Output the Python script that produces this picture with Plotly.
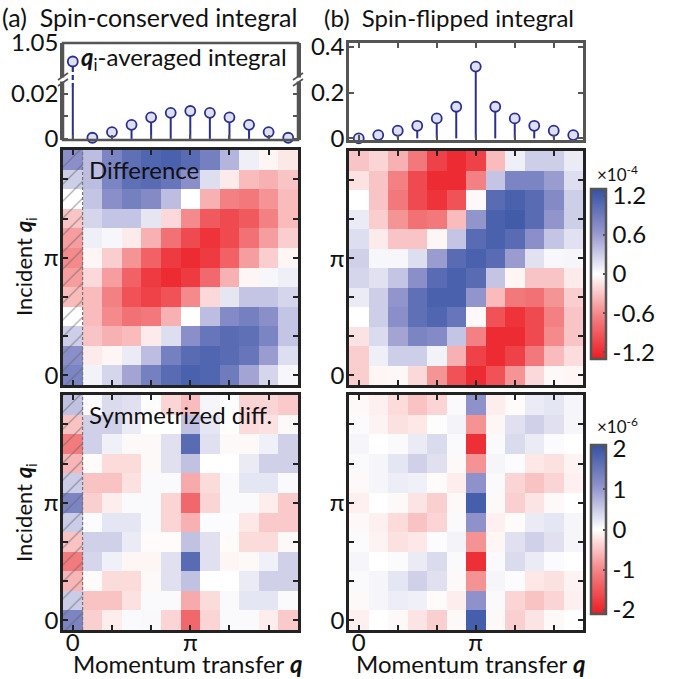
import plotly.graph_objects as go

W, H = 688, 679
FONT = "Lato"
N = 12
cols = list(range(N))

# q_i-averaged integrals versus momentum transfer q (q = 2*pi*k/12)
sc_integral = [1.025, 0.0005, 0.003, 0.0062, 0.0095, 0.0115, 0.0123,
               0.0115, 0.0095, 0.0062, 0.003, 0.0005]
sf_integral = [0.0, 0.0146, 0.0335, 0.055, 0.087, 0.138, 0.313,
               0.138, 0.087, 0.055, 0.0335, 0.0146]

# Maps: rows listed from top (largest q_i) down to q_i = 0, columns q = 0 .. 11
diff_sc_rows = [  # units of 1e-4
    [0.70, 0.40, 0.80, 1.00, 1.10, 1.15, 1.05, 0.85, 0.45, 0.10, -0.05, -0.12],
    [0.30, 0.40, 0.80, 1.00, 1.05, 0.95, 0.70, 0.20, -0.10, -0.35, -0.40, -0.30],
    [0.00, 0.35, 0.70, 0.85, 0.75, 0.40, 0.00, -0.40, -0.65, -0.70, -0.55, -0.35],
    [-0.30, 0.25, 0.35, 0.35, 0.15, -0.20, -0.60, -0.90, -1.00, -0.90, -0.65, -0.35],
    [-0.50, 0.10, 0.05, -0.10, -0.40, -0.75, -1.00, -1.15, -1.00, -0.75, -0.50, -0.25],
    [-0.60, -0.05, -0.25, -0.55, -0.85, -1.10, -1.20, -1.10, -0.85, -0.50, -0.25, -0.05],
    [-0.50, -0.20, -0.50, -0.85, -1.10, -1.20, -1.10, -0.80, -0.40, -0.05, 0.05, 0.10],
    [-0.35, -0.35, -0.65, -0.95, -1.05, -0.95, -0.60, -0.20, 0.15, 0.35, 0.35, 0.25],
    [0.00, -0.35, -0.60, -0.75, -0.70, -0.40, 0.00, 0.40, 0.75, 0.85, 0.70, 0.35],
    [0.30, -0.30, -0.40, -0.35, -0.10, 0.20, 0.70, 0.95, 1.05, 1.00, 0.80, 0.35],
    [0.70, -0.10, -0.05, 0.12, 0.40, 0.85, 1.05, 1.10, 1.05, 0.95, 0.60, 0.20],
    [0.80, 0.08, 0.25, 0.55, 0.85, 1.05, 1.15, 1.10, 0.90, 0.55, 0.25, 0.05],
]
diff_sf_rows = [  # units of 1e-4
    [-0.30, -0.22, -0.40, -0.70, -1.05, -1.20, -1.05, -0.35, 0.10, 0.30, 0.30, 0.12],
    [-0.15, -0.30, -0.65, -1.00, -1.20, -1.20, -0.65, 0.35, 0.80, 0.80, 0.60, 0.20],
    [0.00, -0.30, -0.70, -1.00, -1.15, -0.95, -0.03, 1.05, 1.15, 1.05, 0.75, 0.30],
    [0.12, -0.25, -0.55, -0.75, -0.70, -0.35, 0.65, 1.15, 1.20, 1.05, 0.65, 0.30],
    [0.20, -0.10, -0.30, -0.30, -0.05, 0.35, 1.05, 1.15, 1.05, 0.70, 0.35, 0.18],
    [0.28, 0.05, 0.05, 0.20, 0.60, 1.05, 1.15, 1.05, 0.60, 0.18, 0.04, 0.06],
    [0.25, 0.18, 0.35, 0.70, 1.05, 1.15, 1.05, 0.35, -0.05, -0.30, -0.30, -0.10],
    [0.12, 0.30, 0.65, 1.00, 1.15, 1.15, 0.65, -0.35, -0.70, -0.75, -0.55, -0.25],
    [0.00, 0.30, 0.70, 1.00, 1.10, 0.95, -0.03, -0.95, -1.15, -1.00, -0.65, -0.30],
    [-0.15, 0.22, 0.55, 0.80, 0.75, 0.35, -0.65, -1.20, -1.20, -1.00, -0.60, -0.30],
    [-0.25, 0.10, 0.30, 0.30, 0.08, -0.40, -1.05, -1.20, -1.05, -0.70, -0.35, -0.18],
    [-0.25, -0.05, -0.04, -0.20, -0.55, -0.95, -1.20, -0.95, -0.55, -0.20, -0.03, -0.05],
]
sym_sc_rows = [  # units of 1e-6
    [0.60, 0.05, 0.35, 0.30, 0.02, -0.35, -0.55, 0.10, 0.02, -0.35, -0.35, -0.45],
    [-0.50, 0.45, 0.45, 0.20, 0.00, 0.00, 0.60, 0.25, 0.00, -0.30, -0.25, -0.05],
    [-1.10, 0.45, 0.15, -0.05, -0.05, 0.30, 1.70, 0.30, -0.05, -0.05, 0.15, 0.45],
    [-0.60, -0.03, -0.30, -0.30, -0.05, 0.30, 0.60, 0.00, 0.00, 0.20, 0.45, 0.45],
    [0.50, -0.50, -0.50, -0.25, 0.05, 0.05, -0.70, -0.30, 0.05, 0.25, 0.25, 0.05],
    [1.30, -0.40, -0.15, 0.05, 0.05, -0.35, -1.30, -0.35, 0.05, 0.05, -0.15, -0.45],
    [0.50, 0.03, 0.25, 0.25, 0.05, -0.35, -0.65, 0.03, 0.03, -0.20, -0.45, -0.45],
    [-0.50, 0.45, 0.45, 0.20, -0.03, -0.03, 0.60, 0.30, -0.03, -0.30, -0.30, -0.05],
    [-1.10, 0.40, 0.15, -0.08, -0.08, 0.30, 1.70, 0.30, -0.08, -0.05, 0.15, 0.45],
    [-0.60, -0.03, -0.30, -0.30, -0.05, 0.30, 0.60, 0.00, 0.00, 0.20, 0.45, 0.45],
    [0.50, -0.50, -0.50, -0.25, 0.05, 0.05, -0.70, -0.30, 0.05, 0.25, 0.25, 0.05],
    [1.30, -0.40, -0.15, 0.05, 0.06, -0.35, -1.30, -0.35, 0.05, 0.05, -0.15, -0.45],
]
sym_sf_rows = [  # units of 1e-6
    [-0.05, -0.12, -0.30, -0.50, -0.35, 0.05, 1.10, -0.15, -0.03, 0.20, 0.25, 0.10],
    [0.04, -0.10, -0.25, -0.20, 0.02, 0.12, -0.90, -0.08, 0.30, 0.45, 0.30, 0.10],
    [0.10, 0.00, 0.05, 0.20, 0.35, 0.05, -1.90, 0.05, 0.35, 0.20, 0.04, 0.00],
    [0.05, 0.10, 0.25, 0.45, 0.30, -0.05, -0.90, 0.10, 0.03, -0.20, -0.25, -0.10],
    [-0.05, 0.10, 0.18, 0.15, -0.03, -0.15, 1.10, 0.05, -0.35, -0.50, -0.35, -0.12],
    [-0.12, 0.00, -0.05, -0.22, -0.40, -0.05, 1.90, -0.05, -0.40, -0.22, -0.05, 0.00],
    [-0.05, -0.12, -0.30, -0.50, -0.35, 0.05, 1.10, -0.12, -0.03, 0.20, 0.25, 0.10],
    [0.04, -0.10, -0.25, -0.20, 0.03, 0.12, -0.90, -0.08, 0.30, 0.45, 0.30, 0.10],
    [0.10, 0.00, 0.04, 0.20, 0.35, 0.05, -1.90, 0.05, 0.35, 0.20, 0.04, 0.00],
    [0.05, 0.10, 0.25, 0.45, 0.30, -0.05, -0.90, 0.10, 0.03, -0.20, -0.25, -0.10],
    [-0.05, 0.10, 0.18, 0.15, -0.03, -0.15, 1.10, 0.05, -0.35, -0.50, -0.35, -0.12],
    [-0.12, 0.00, -0.05, -0.22, -0.40, -0.05, 1.90, -0.05, -0.40, -0.22, -0.05, 0.00],
]

diff_ticks = [-1.2, -0.6, 0, 0.6, 1.2]
sym_ticks = [-2, -1, 0, 1, 2]
DIFF_LIM = 1.3
SYM_LIM = 2.1

# axis-break settings of the spin-conserved panel
LOW_RANGE = [-0.0005, 0.026]
UP_RANGE = [1.0, 1.05]
BREAK_LO = 0.0225

STEM = "rgb(44,48,140)"
MFILL = "rgb(222,223,241)"
FRAME = "#555555"
HFRAME = "#222222"
INK = "#111111"
FS = 24

COLORSCALE = [
    [0.0, "rgb(236,28,36)"],
    [0.25, "rgb(243,128,130)"],
    [0.5, "rgb(255,255,255)"],
    [0.75, "rgb(146,148,204)"],
    [1.0, "rgb(52,82,164)"],
]


def xd(a, b):
    return [a / W, b / W]


def yd(top, bottom):
    return [1 - bottom / H, 1 - top / H]


def px_x(v):
    return v / W


def px_y(v):
    return 1 - v / H


fig = go.Figure()

# ---- stem panel (a): lower and upper parts of the broken axis ----
sx, sy = [], []
for i in cols[1:]:
    sx += [i, i, None]
    sy += [0, sc_integral[i], None]
sx += [0, 0, None]
sy += [0, BREAK_LO, None]
fig.add_trace(go.Scatter(x=sx, y=sy, mode="lines", xaxis="x", yaxis="y",
                         line=dict(color=STEM, width=2), hoverinfo="skip"))
fig.add_trace(go.Scatter(x=[0, 0], y=[BREAK_LO, LOW_RANGE[1]], mode="lines",
                         xaxis="x", yaxis="y", hoverinfo="skip",
                         line=dict(color=STEM, width=2.2, dash="5px,3px")))
fig.add_trace(go.Scatter(x=[0, 0], y=[UP_RANGE[0], sc_integral[0]], mode="lines",
                         xaxis="x", yaxis="y2", hoverinfo="skip",
                         line=dict(color=STEM, width=2.2, dash="5px,3px")))
marker = dict(symbol="circle", size=10, color=MFILL, line=dict(color=STEM, width=1.8))
fig.add_trace(go.Scatter(x=cols[1:], y=sc_integral[1:], mode="markers", xaxis="x",
                         yaxis="y", marker=marker, cliponaxis=False))
fig.add_trace(go.Scatter(x=[0], y=[sc_integral[0]], mode="markers", xaxis="x",
                         yaxis="y2", marker=marker, cliponaxis=False))

# ---- stem panel (b) ----
fx, fy = [], []
for i in cols:
    fx += [i, i, None]
    fy += [0, sf_integral[i], None]
fig.add_trace(go.Scatter(x=fx, y=fy, mode="lines", xaxis="x3", yaxis="y3",
                         line=dict(color=STEM, width=2), hoverinfo="skip"))
fig.add_trace(go.Scatter(x=cols, y=sf_integral, mode="markers", xaxis="x3",
                         yaxis="y3", marker=marker, cliponaxis=False))


# ---- maps ----
def heat(rows, xa, ya, lim, cbar=None):
    z = rows[::-1]
    return go.Heatmap(
        z=z, x=cols, y=cols, xaxis=xa, yaxis=ya, zmin=-lim, zmax=lim,
        colorscale=COLORSCALE, showscale=cbar is not None, colorbar=cbar,
        hoverinfo="skip", xgap=0, ygap=0)


def cbar(ticks, top, bottom):
    return dict(
        x=591 / W, xanchor="left", xpad=0, ypad=0,
        y=1 - (top + bottom) / 2 / H, yanchor="middle",
        len=(bottom - top) / H, lenmode="fraction",
        thickness=15, thicknessmode="pixels",
        outlinewidth=2.5, outlinecolor=FRAME,
        tickvals=ticks, ticktext=[("%g" % t) for t in ticks],
        ticks="inside", ticklen=4, tickwidth=1.5, tickcolor=FRAME,
        tickfont=dict(family=FONT, size=FS, color=INK),
    )


fig.add_trace(heat(diff_sc_rows, "x4", "y4", DIFF_LIM))
fig.add_trace(heat(diff_sf_rows, "x5", "y5", DIFF_LIM, cbar(diff_ticks, 189, 359)))
fig.add_trace(heat(sym_sc_rows, "x6", "y6", SYM_LIM))
fig.add_trace(heat(sym_sf_rows, "x7", "y7", SYM_LIM, cbar(sym_ticks, 445, 614)))

# hatched q = 0 column of the spin-conserved maps
for xa, ya in (("x4", "y4"), ("x6", "y6")):
    fig.add_trace(go.Bar(
        x=[0], y=[N], base=[-0.5], width=[1], xaxis=xa, yaxis=ya,
        marker=dict(color="rgba(0,0,0,0)", line=dict(width=0),
                    pattern=dict(shape="/", fgcolor="rgba(95,95,95,0.95)",
                                 bgcolor="rgba(0,0,0,0)", size=12, solidity=0.12,
                                 fillmode="overlay")),
        hoverinfo="skip"))

tick_font = dict(family=FONT, size=FS, color=INK)
even = cols[::2]
pi_text = ["0", "", "", "\u03c0", "", ""]

common_heat_axis = dict(
    range=[-0.5, 11.5], showgrid=False, zeroline=False, showline=True,
    mirror="ticks", linecolor=HFRAME, linewidth=2.5, ticks="inside",
    ticklen=5, tickwidth=2, tickcolor=HFRAME, tickvals=even, ticktext=pi_text,
    tickfont=tick_font, fixedrange=True, automargin=False,
)
X_STANDOFF = -11
Y_STANDOFF = -3

layout_axes = {}
# stem (a)
layout_axes["xaxis"] = dict(domain=xd(63, 298), anchor="y", range=[-0.5, 11.5],
                            showgrid=False, zeroline=False, showline=False,
                            ticks="inside", tickvals=even, ticklen=5, tickwidth=2,
                            tickcolor=FRAME, showticklabels=False, automargin=False)
layout_axes["yaxis"] = dict(domain=yd(80, 140), anchor="x", range=LOW_RANGE,
                            showgrid=False, zeroline=False, showline=True,
                            mirror="ticks", linecolor=FRAME, linewidth=2.5,
                            ticks="inside", ticklen=5, tickwidth=2, tickcolor=FRAME,
                            tickvals=[0, 0.01, 0.02], ticktext=["0", "", "0.02"],
                            tickfont=tick_font, automargin=False,
                            ticklabelstandoff=Y_STANDOFF)
layout_axes["yaxis2"] = dict(domain=yd(43, 80), anchor="x", range=UP_RANGE,
                             showgrid=False, zeroline=False, showline=True,
                             mirror="ticks", linecolor=FRAME, linewidth=2.5,
                             ticks="", tickvals=[1.05], ticktext=["1.05"],
                             tickfont=tick_font, automargin=False,
                             ticklabelstandoff=Y_STANDOFF)
# stem (b)
layout_axes["xaxis3"] = dict(domain=xd(349, 583), anchor="y3", range=[-0.5, 11.5],
                             showgrid=False, zeroline=False, showline=True,
                             mirror="ticks", linecolor=FRAME, linewidth=2.5,
                             ticks="inside", tickvals=even, ticklen=5, tickwidth=2,
                             tickcolor=FRAME, showticklabels=False, automargin=False)
layout_axes["yaxis3"] = dict(domain=yd(43, 140), anchor="x3", range=[-0.007, 0.416],
                             showgrid=False, zeroline=False, showline=True,
                             mirror="ticks", linecolor=FRAME, linewidth=2.5,
                             ticks="inside", ticklen=5, tickwidth=2, tickcolor=FRAME,
                             tickvals=[0, 0.2, 0.4], ticktext=["0", "0.2", "0.4"],
                             tickfont=tick_font, automargin=False,
                             ticklabelstandoff=Y_STANDOFF)
# maps
for k, (xdom, ydom, xlabels) in {
    4: (xd(63, 298), yd(150, 385), False),
    5: (xd(349, 583), yd(151, 385), False),
    6: (xd(63, 298), yd(395, 630), True),
    7: (xd(349, 583), yd(395, 630), True),
}.items():
    layout_axes["xaxis%d" % k] = dict(common_heat_axis, domain=xdom, anchor="y%d" % k,
                                      showticklabels=xlabels,
                                      ticklabelstandoff=X_STANDOFF)
    layout_axes["yaxis%d" % k] = dict(common_heat_axis, domain=ydom, anchor="x%d" % k,
                                      ticklabelstandoff=Y_STANDOFF)

shapes = [
    # frame of panel (a) integral
    dict(type="rect", xref="paper", yref="paper", x0=px_x(63), x1=px_x(298),
         y0=px_y(140), y1=px_y(43), line=dict(color=FRAME, width=2.5), layer="above"),
]
# axis-break marks on panel (a) frame
for bx in (63, 298):
    shapes.append(dict(type="rect", xref="paper", yref="paper",
                       x0=px_x(bx - 3), x1=px_x(bx + 3), y0=px_y(81.5), y1=px_y(77.5),
                       fillcolor="white", line=dict(width=0), layer="above"))
    for by in (76.5, 82.5):
        shapes.append(dict(type="line", xref="paper", yref="paper",
                           x0=px_x(bx - 5), y0=px_y(by + 3.5),
                           x1=px_x(bx + 5), y1=px_y(by - 3.5),
                           line=dict(color=FRAME, width=1.6), layer="above"))
# dashed edge of the hatched column
for xa, ya in (("x4", "y4"), ("x6", "y6")):
    shapes.append(dict(type="line", xref=xa, yref=ya + " domain", x0=0.5, x1=0.5,
                       y0=0, y1=1, line=dict(color="#777777", width=1.2, dash="3px,2px"),
                       layer="above"))


def label(text, x, y, xanchor="left", size=FS, angle=0):
    return dict(text=text, x=px_x(x), y=px_y(y), xref="paper", yref="paper",
                xanchor=xanchor, yanchor="middle", showarrow=False, textangle=angle,
                font=dict(family=FONT, size=size, color=INK))


annotations = [
    label("(a)  Spin-conserved integral", 0, 17, size=25),
    label("(b)  Spin-flipped integral", 322, 17),
    label("<b><i>q</i></b><sub>i</sub>-averaged integral", 79, 58),
    label("Difference", 87, 169),
    label("Symmetrized diff.", 87, 414),
    label("\u00d710<sup>-4</sup>", 595, 173, size=17),
    label("\u00d710<sup>-6</sup>", 595, 425, size=17),
    label("Incident <b><i>q</i></b><sub>i</sub>", 25, 267, xanchor="center", size=22, angle=-90),
    label("Incident <b><i>q</i></b><sub>i</sub>", 25, 513, xanchor="center", size=22, angle=-90),
    label("Momentum transfer <b><i>q</i></b>", 187, 663, xanchor="center"),
    label("Momentum transfer <b><i>q</i></b>", 470, 663, xanchor="center"),
]

fig.update_layout(
    template="none",
    width=W, height=H, margin=dict(l=0, r=0, t=0, b=0, pad=0, autoexpand=False),
    paper_bgcolor="white", plot_bgcolor="white", showlegend=False,
    font=dict(family=FONT, size=FS, color=INK),
    shapes=shapes, annotations=annotations, barmode="overlay",
    **layout_axes,
)

fig.write_html("out.html", config={"displayModeBar": False})
